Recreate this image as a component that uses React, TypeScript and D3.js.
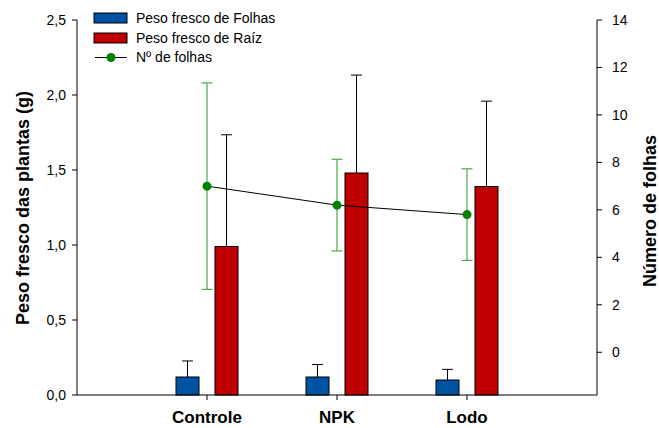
import React from 'react';
import * as d3 from 'd3';

// data
const categories = ['Controle', 'NPK', 'Lodo'];
const folhas = [0.12, 0.12, 0.10];
const folhasErr = [0.107, 0.083, 0.071];
const raiz = [0.99, 1.48, 1.39];
const raizErr = [0.745, 0.653, 0.569];
const nFolhas = [7.0, 6.2, 5.8];
const nFolhasErr = [4.35, 1.93, 1.93];
const leftTicks = [0, 0.5, 1.0, 1.5, 2.0, 2.5];
const rightTicks = [0, 2, 4, 6, 8, 10, 12, 14];

const W = 659;
const H = 428;
const left = 77;
const right = 597;
const top = 20;
const bottom = 395;

const BLUE = '#0052a3';
const RED = '#c00000';
const GREEN = '#008000';
const GREEN_ERR = '#4fa84f';
const FONT = '"Liberation Sans", Arial, sans-serif';

const App = () => {
  // categories sit on slots 1..3 of a 0..4 axis
  const x = d3.scaleLinear().domain([0, categories.length + 1]).range([left, right]);
  const yL = d3.scaleLinear().domain([0, 2.5]).range([bottom, top]);
  const yR = d3.scaleLinear().domain([-1.8, 14]).range([bottom, top]);

  const barW = 23;
  const off = 19.5;
  const cap = 5.5;
  const fmt = (v: number) => d3.format('.1f')(v).replace('.', ',');

  const line = d3.line<number>()
    .x((d, i) => x(i + 1))
    .y(d => yR(d));

  const bar = (vals: number[], errs: number[], dx: number, fill: string, key: string) =>
    vals.map((v, i) => {
      const cx = x(i + 1) + dx;
      const yTop = yL(v);
      const yErr = yL(v + errs[i]);
      return (
        <g key={key + i}>
          <line x1={cx} x2={cx} y1={yTop} y2={yErr} stroke="#000" strokeWidth={1} />
          <line x1={cx - cap} x2={cx + cap} y1={yErr} y2={yErr} stroke="#000" strokeWidth={1} />
          <rect x={cx - barW / 2} y={yTop} width={barW} height={bottom - yTop} fill={fill} stroke="#000" strokeWidth={1} />
        </g>
      );
    });

  return (
    <div style={{ position: 'absolute', left: 0, top: 0 }}>
      <svg width={W} height={H} style={{ display: 'block', fontFamily: FONT }}>
        <rect width={W} height={H} fill="#fff" />

        {/* bars with one-sided error bars */}
        {bar(folhas, folhasErr, -off, BLUE, 'f')}
        {bar(raiz, raizErr, off, RED, 'r')}

        {/* axes */}
        <line x1={left} x2={right} y1={bottom} y2={bottom} stroke="#000" />
        <line x1={left} x2={left} y1={top} y2={bottom} stroke="#000" />
        <line x1={right} x2={right} y1={top} y2={bottom} stroke="#000" />

        {leftTicks.map(t => (
          <g key={'lt' + t}>
            <line x1={left - 5} x2={left} y1={yL(t)} y2={yL(t)} stroke="#000" />
            <text x={left - 11} y={yL(t)} dy="0.35em" textAnchor="end" fontSize={14}>{fmt(t)}</text>
          </g>
        ))}
        {rightTicks.map(t => (
          <g key={'rt' + t}>
            <line x1={right} x2={right + 5} y1={yR(t)} y2={yR(t)} stroke="#000" />
            <text x={right + 15} y={yR(t)} dy="0.35em" textAnchor="start" fontSize={14}>{t}</text>
          </g>
        ))}
        {categories.map((c, i) => (
          <g key={c}>
            <line x1={x(i + 1)} x2={x(i + 1)} y1={bottom} y2={bottom + 5} stroke="#000" />
            <text x={x(i + 1)} y={423} textAnchor="middle" fontSize={17} fontWeight="bold">{c}</text>
          </g>
        ))}

        <text transform={`translate(29,208) rotate(-90)`} textAnchor="middle" fontSize={18} fontWeight="bold">
          Peso fresco das plantas (g)
        </text>
        <text transform={`translate(656,211) rotate(-90)`} textAnchor="middle" fontSize={18} fontWeight="bold">
          Número de folhas
        </text>

        {/* número de folhas: error bars, line, markers */}
        {nFolhas.map((v, i) => {
          const cx = x(i + 1);
          const y1 = yR(v + nFolhasErr[i]);
          const y2 = yR(v - nFolhasErr[i]);
          return (
            <g key={'ge' + i} stroke={GREEN_ERR} strokeWidth={1.2}>
              <line x1={cx} x2={cx} y1={y1} y2={y2} />
              <line x1={cx - cap} x2={cx + cap} y1={y1} y2={y1} />
              <line x1={cx - cap} x2={cx + cap} y1={y2} y2={y2} />
            </g>
          );
        })}
        <path d={line(nFolhas) || ''} fill="none" stroke="#000" strokeWidth={1} />
        {nFolhas.map((v, i) => (
          <circle key={'gp' + i} cx={x(i + 1)} cy={yR(v)} r={4.5} fill={GREEN} />
        ))}

        {/* legend */}
        <g fontSize={14}>
          <rect x={94} y={13} width={33} height={10} fill={BLUE} stroke="#000" />
          <text x={136} y={18} dy="0.35em">Peso fresco de Folhas</text>
          <rect x={94} y={33} width={33} height={10} fill={RED} stroke="#000" />
          <text x={136} y={38} dy="0.35em">Peso fresco de Raíz</text>
          <line x1={95} x2={127} y1={57.5} y2={57.5} stroke="#000" />
          <circle cx={111} cy={57.5} r={4.5} fill={GREEN} />
          <text x={136} y={57.5} dy="0.35em">Nº de folhas</text>
        </g>
      </svg>
    </div>
  );
};

export default App;
